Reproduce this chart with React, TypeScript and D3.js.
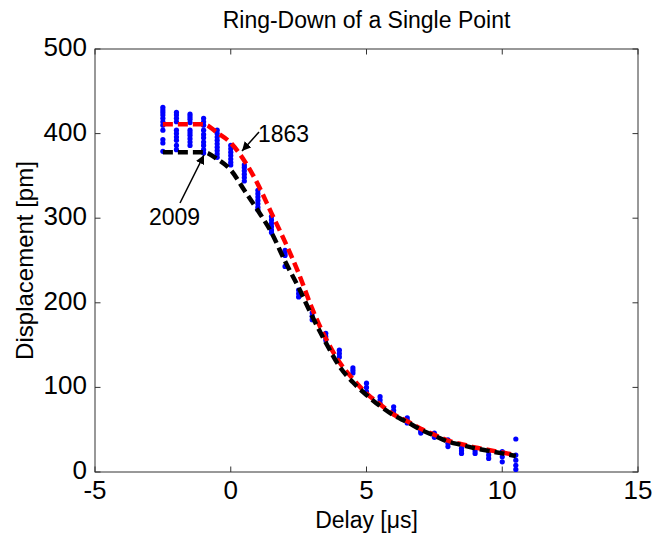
import React from "react";
import * as d3 from "d3";

const W = 655;
const H = 537;

const xTicks = [-5, 0, 5, 10, 15];
const yTicks = [0, 100, 200, 300, 400, 500];

const curveX = [-2.5, -2, -1.5, -1, -0.5, 0, 0.5, 1, 1.5, 2, 2.5, 3, 3.5, 4, 4.5, 5, 5.5, 6, 6.5, 7, 7.5, 8, 8.5, 9, 9.5, 10, 10.5];
const red1863 = [411, 411, 411, 411, 401, 389, 368, 340, 306, 272, 235, 193, 158, 130, 110, 93, 80, 68, 60, 51, 44, 37, 33, 29, 26, 23, 20];
const black2009 = [378, 378, 378, 378, 370, 357, 333, 309, 283, 249, 218, 184, 153, 125, 106, 91, 78, 67, 59, 50, 43, 36, 32, 28, 25, 22, 19];

const blueX = [-2.5, -2, -1.5, -1, -0.5, 0, 0.5, 1, 1.5, 2, 2.5, 3, 3.5, 4, 4.5, 5, 5.5, 6, 6.5, 7, 7.5, 8, 8.5, 9, 9.5, 10, 10.5];
const blueY = [
  [431, 428, 425, 422, 418, 414, 410, 404, 393, 389, 379],
  [425, 422, 418, 414, 404, 400, 396, 392, 386, 381],
  [423, 420, 417, 413, 404, 401, 398, 394, 390, 386],
  [418, 414, 410, 404, 399, 395, 390, 386, 381, 377],
  [404, 400, 396, 392, 388, 384, 380, 376, 372],
  [386, 382, 378, 374, 370, 366, 363],
  [363, 360, 356, 352, 348, 344],
  [333, 329, 325, 321, 317, 313, 310],
  [302, 298, 294, 290, 286, 283],
  [262, 259, 256, 243],
  [215, 211, 207],
  [188, 184, 180],
  [164, 160, 156],
  [144, 140, 136],
  [123, 120, 117],
  [105, 100, 95],
  [89, 85, 81],
  [77, 73, 69],
  [64, 61, 58],
  [50, 48, 46],
  [46, 43, 41],
  [38, 34, 30],
  [28, 25, 22],
  [28, 25, 22],
  [24, 20, 16],
  [24, 18, 12],
  [39, 20, 14, 8, 3],
];

const margin = { left: 95, right: 638, top: 49, bottom: 472 };
const FONT = "'Liberation Sans', Arial, Helvetica, sans-serif";

export default function App() {
  const x = d3.scaleLinear().domain([-5, 15]).range([margin.left, margin.right]);
  const y = d3.scaleLinear().domain([0, 500]).range([margin.bottom, margin.top]);

  const line = d3
    .line<number>()
    .x((_, i) => x(curveX[i]))
    .y((d) => y(d))
    .curve(d3.curveMonotoneX);

  const blue: { cx: number; cy: number; key: string }[] = [];
  blueX.forEach((bx, i) => {
    blueY[i].forEach((v, j) => {
      blue.push({ cx: x(bx), cy: y(v), key: `${i}-${j}` });
    });
  });

  const tl = 5.5;
  const axisColor = "#333";

  return (
    <svg
      width={W}
      height={H}
      style={{ position: "absolute", left: 0, top: 0, background: "#fff", display: "block" }}
      fontFamily={FONT}
    >
      <defs>
        <marker id="ah" viewBox="0 0 10 10" refX="10" refY="5" markerWidth="9" markerHeight="9" markerUnits="userSpaceOnUse" orient="auto">
          <path d="M0,0 L10,5 L0,10 z" fill="#000" />
        </marker>
      </defs>
      <rect x={0} y={0} width={W} height={H} fill="#fff" />

      {/* title */}
      <text x={(margin.left + margin.right) / 2} y={28} textAnchor="middle" fontSize={23} fill="#000">
        Ring-Down of a Single Point
      </text>

      {/* axes box */}
      <rect
        x={margin.left}
        y={margin.top}
        width={margin.right - margin.left}
        height={margin.bottom - margin.top}
        fill="none"
        stroke={axisColor}
        strokeWidth={1}
      />

      {/* x ticks */}
      {xTicks.map((t) => (
        <g key={`xt${t}`}>
          <line x1={x(t)} x2={x(t)} y1={margin.bottom} y2={margin.bottom - tl} stroke={axisColor} />
          <line x1={x(t)} x2={x(t)} y1={margin.top} y2={margin.top + tl} stroke={axisColor} />
          <text x={x(t)} y={499} textAnchor="middle" fontSize={26} fill="#000">
            {t}
          </text>
        </g>
      ))}

      {/* y ticks */}
      {yTicks.map((t) => (
        <g key={`yt${t}`}>
          <line x1={margin.left} x2={margin.left + tl} y1={y(t)} y2={y(t)} stroke={axisColor} />
          <line x1={margin.right} x2={margin.right - tl} y1={y(t)} y2={y(t)} stroke={axisColor} />
          <text x={87} y={y(t) + 7} textAnchor="end" fontSize={26} fill="#000">
            {t}
          </text>
        </g>
      ))}

      {/* axis labels */}
      <text x={(margin.left + margin.right) / 2} y={528} textAnchor="middle" fontSize={23} fill="#000">
        Delay [μs]
      </text>
      <text
        transform={`translate(33, ${(margin.top + margin.bottom) / 2}) rotate(-90)`}
        textAnchor="middle"
        fontSize={24}
        fill="#000"
      >
        Displacement [pm]
      </text>

      {/* blue data */}
      {blue.map((b) => (
        <circle key={b.key} cx={b.cx} cy={b.cy} r={2.6} fill="#0000ff" />
      ))}

      {/* fits */}
      <path d={line(red1863) || ""} fill="none" stroke="#ff0000" strokeWidth={4.5} strokeDasharray="10,5" />
      <path d={line(black2009) || ""} fill="none" stroke="#000" strokeWidth={4.5} strokeDasharray="10,5" />

      {/* annotations */}
      <line x1={259} x2={242} y1={132} y2={151} stroke="#000" strokeWidth={1.5} markerEnd="url(#ah)" />
      <text x={258} y={142} fontSize={23} fill="#000">
        1863
      </text>
      <line x1={180} x2={204} y1={203} y2={155} stroke="#000" strokeWidth={1.5} markerEnd="url(#ah)" />
      <text x={149} y={225} fontSize={23} fill="#000">
        2009
      </text>
    </svg>
  );
}
